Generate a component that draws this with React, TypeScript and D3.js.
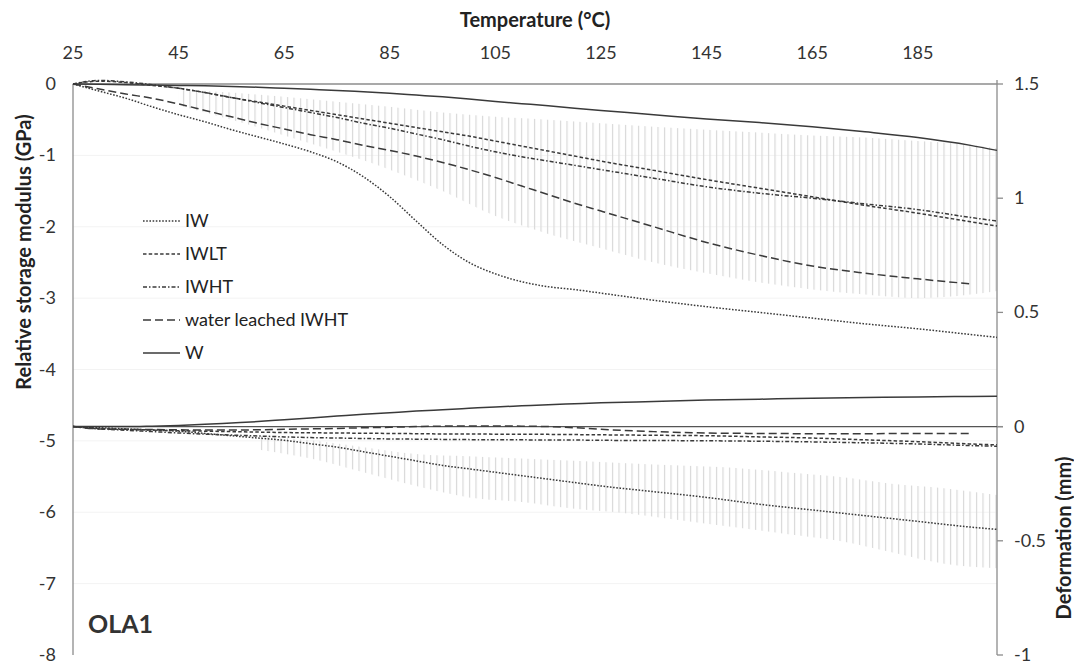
import React from 'react';
import * as d3 from 'd3';

// temperature steps (°C)
const temps = [25, 30, 35, 40, 45, 50, 55, 60, 65, 70, 75, 80, 85, 90, 95, 100, 105, 110, 115, 120, 125, 135, 145, 155, 165, 175, 185, 195, 200];

// relative storage modulus (GPa)
const modIW = [0, -0.1, -0.2, -0.32, -0.43, -0.53, -0.64, -0.74, -0.84, -0.95, -1.09, -1.3, -1.58, -1.92, -2.25, -2.5, -2.66, -2.77, -2.84, -2.88, -2.93, -3.03, -3.12, -3.2, -3.28, -3.36, -3.43, -3.51, -3.55];
const modIWLT = [0, 0.04, 0.02, -0.02, -0.06, -0.12, -0.19, -0.25, -0.31, -0.37, -0.43, -0.49, -0.55, -0.61, -0.67, -0.73, -0.8, -0.87, -0.94, -1.01, -1.08, -1.21, -1.34, -1.46, -1.58, -1.7, -1.81, -1.93, -1.99];
const modIWHT = [0, 0.05, 0.03, -0.01, -0.06, -0.12, -0.19, -0.26, -0.33, -0.4, -0.47, -0.55, -0.62, -0.7, -0.78, -0.87, -0.95, -1.02, -1.08, -1.14, -1.2, -1.32, -1.44, -1.53, -1.6, -1.68, -1.76, -1.87, -1.92];
const modWL = [0, -0.07, -0.14, -0.2, -0.28, -0.37, -0.46, -0.55, -0.63, -0.71, -0.78, -0.86, -0.93, -1.01, -1.1, -1.2, -1.31, -1.43, -1.55, -1.67, -1.78, -2.0, -2.22, -2.4, -2.55, -2.65, -2.73, -2.8, null];
const modW = [0, -0.003, -0.01, -0.015, -0.02, -0.025, -0.035, -0.045, -0.06, -0.075, -0.09, -0.11, -0.13, -0.155, -0.18, -0.21, -0.245, -0.275, -0.305, -0.34, -0.37, -0.43, -0.49, -0.54, -0.6, -0.67, -0.75, -0.86, -0.93];

// deformation (mm)
const defIW = [0, -0.005, -0.01, -0.015, -0.02, -0.03, -0.04, -0.05, -0.06, -0.075, -0.09, -0.11, -0.13, -0.15, -0.17, -0.185, -0.2, -0.215, -0.23, -0.245, -0.26, -0.285, -0.31, -0.34, -0.365, -0.39, -0.415, -0.44, -0.45];
const defIWLT = [0, -0.008, -0.012, -0.015, -0.018, -0.02, -0.022, -0.024, -0.026, -0.027, -0.028, -0.029, -0.03, -0.031, -0.032, -0.032, -0.033, -0.033, -0.034, -0.035, -0.036, -0.038, -0.04, -0.045, -0.05, -0.058, -0.066, -0.076, -0.08];
const defIWHT = [0, -0.01, -0.016, -0.022, -0.028, -0.033, -0.037, -0.041, -0.045, -0.048, -0.05, -0.052, -0.054, -0.055, -0.056, -0.057, -0.058, -0.058, -0.059, -0.059, -0.06, -0.061, -0.062, -0.064, -0.067, -0.071, -0.076, -0.083, -0.086];
const defWL = [0, -0.01, -0.012, -0.013, -0.014, -0.015, -0.015, -0.014, -0.012, -0.01, -0.008, -0.005, -0.003, 0, 0.002, 0.003, 0.003, 0.002, 0, -0.005, -0.012, -0.022, -0.028, -0.03, -0.031, -0.031, -0.03, -0.03, null];
const defW = [0, 0, 0, 0.002, 0.005, 0.01, 0.016, 0.022, 0.03, 0.038, 0.046, 0.054, 0.061, 0.068, 0.074, 0.08, 0.086, 0.091, 0.096, 0.1, 0.104, 0.11, 0.116, 0.12, 0.124, 0.127, 0.13, 0.132, 0.133];

// spread of the repeats (light hatching)
const upperTemps = [45, 55, 65, 75, 85, 95, 105, 115, 125, 135, 145, 155, 165, 175, 185, 195, 200];
const upperHi = [-0.08, -0.12, -0.18, -0.25, -0.32, -0.4, -0.46, -0.5, -0.55, -0.6, -0.64, -0.68, -0.72, -0.75, -0.8, -0.85, -0.9];
const upperLo = [-0.3, -0.5, -0.72, -0.95, -1.2, -1.5, -1.85, -2.1, -2.3, -2.5, -2.65, -2.78, -2.88, -2.95, -3.0, -2.95, -2.9];
const lowerTemps = [60, 70, 80, 90, 100, 110, 120, 130, 140, 150, 160, 170, 180, 190, 200];
const lowerHi = [-0.04, -0.06, -0.09, -0.12, -0.13, -0.14, -0.15, -0.16, -0.17, -0.18, -0.2, -0.22, -0.25, -0.27, -0.3];
const lowerLo = [-0.1, -0.14, -0.2, -0.26, -0.31, -0.33, -0.36, -0.38, -0.41, -0.44, -0.47, -0.5, -0.55, -0.6, -0.62];

const xTicks = [25, 45, 65, 85, 105, 125, 145, 165, 185];
const leftTicks = [0, -1, -2, -3, -4, -5, -6, -7, -8];
const rightTicks = [1.5, 1, 0.5, 0, -0.5, -1];

const seriesNames = ['IW', 'IWLT', 'IWHT', 'water leached IWHT', 'W'];
const dashes = ['1.6 1.6', '3.5 2.2', '4 2 1.5 2', '8 4', null];

const width = 1074;
const height = 665;
const left = 73;
const right = 997;
const top = 84;
const bottom = 655;
const ink = '#3a3a3a';
const font = 'Lato, "Open Sans", sans-serif';

const App = () => {
  const x = d3.scaleLinear().domain([25, 200]).range([left, right]);
  const yL = d3.scaleLinear().domain([-8, 0]).range([bottom, top]);
  const yR = d3.scaleLinear().domain([-1, 1.5]).range([bottom, top]);

  const mods = [modIW, modIWLT, modIWHT, modWL, modW];
  const defs = [defIW, defIWLT, defIWHT, defWL, defW];

  const lineFor = (vals: (number | null)[], y: d3.ScaleLinear<number, number>) =>
    d3
      .line<number>()
      .defined((_, i) => vals[i] !== null)
      .x((t) => x(t))
      .y((_, i) => y(vals[i] as number))
      .curve(d3.curveMonotoneX)(temps) || '';

  const bandFor = (ts: number[], hi: number[], lo: number[], y: d3.ScaleLinear<number, number>) =>
    d3
      .area<number>()
      .x((t) => x(t))
      .y0((_, i) => y(lo[i]))
      .y1((_, i) => y(hi[i]))
      .curve(d3.curveMonotoneX)(ts) || '';

  return (
    <svg width={width} height={height} style={{ position: 'absolute', left: 0, top: 0, background: '#fff' }} fontFamily={font}>
      <defs>
        <pattern id='vhatch' width={6.5} height={10} patternUnits='userSpaceOnUse'>
          <line x1={1.5} y1={0} x2={1.5} y2={10} stroke='#d8d8d8' strokeWidth={1.2} />
        </pattern>
      </defs>

      {/* faint gridlines */}
      {leftTicks.slice(1, -1).map((t) => (
        <line key={t} x1={left} x2={right} y1={yL(t)} y2={yL(t)} stroke='#f3f3f3' strokeWidth={1} />
      ))}

      {/* hatched spread */}
      <path d={bandFor(upperTemps, upperHi, upperLo, yL)} fill='url(#vhatch)' />
      <path d={bandFor(lowerTemps, lowerHi, lowerLo, yR)} fill='url(#vhatch)' />

      {/* axes */}
      <line x1={left} x2={right} y1={top} y2={top} stroke='#8c8c8c' strokeWidth={1.3} />
      <line x1={left} x2={left} y1={top} y2={bottom} stroke='#8c8c8c' strokeWidth={1.3} />
      <line x1={right} x2={right} y1={top - 4} y2={bottom} stroke='#8c8c8c' strokeWidth={1.3} />
      <line x1={left} x2={right + 6} y1={yR(0)} y2={yR(0)} stroke='#555' strokeWidth={1.3} />
      {rightTicks.map((t) => (
        <line key={t} x1={right} x2={right + 6} y1={yR(t)} y2={yR(t)} stroke='#8c8c8c' strokeWidth={1.3} />
      ))}

      {/* series */}
      {mods.map((vals, i) => (
        <path key={'m' + i} d={lineFor(vals, yL)} fill='none' stroke={ink} strokeWidth={1.5}
          strokeDasharray={dashes[i] || undefined} />
      ))}
      {defs.map((vals, i) => (
        <path key={'d' + i} d={lineFor(vals, yR)} fill='none' stroke={ink} strokeWidth={1.5}
          strokeDasharray={dashes[i] || undefined} />
      ))}

      {/* tick labels */}
      {xTicks.map((t) => (
        <text key={t} x={x(t)} y={59} textAnchor='middle' fontSize={18} fill='#333'>{t}</text>
      ))}
      {leftTicks.map((t) => (
        <text key={t} x={56} y={yL(t) + 6} textAnchor='end' fontSize={18} fill='#333'>{t}</text>
      ))}
      {rightTicks.map((t) => (
        <text key={t} x={1014} y={yR(t) + 6} textAnchor='start' fontSize={18} fill='#333'>{t}</text>
      ))}

      {/* axis titles */}
      <text x={(left + right) / 2} y={27} textAnchor='middle' fontSize={20} fontWeight='bold' fill='#222'>Temperature (°C)</text>
      <text transform={`translate(31, 252) rotate(-90)`} textAnchor='middle' fontSize={20} fontWeight='bold' fill='#222'>
        Relative storage modulus (GPa)
      </text>
      <text transform={`translate(1071, 538) rotate(-90)`} textAnchor='middle' fontSize={20} fontWeight='bold' fill='#222'>
        Deformation (mm)
      </text>

      {/* legend */}
      {seriesNames.map((name, i) => (
        <g key={name} transform={`translate(143, ${221 + i * 33})`}>
          <line x1={0} x2={37} y1={0} y2={0} stroke={ink} strokeWidth={1.5} strokeDasharray={dashes[i] || undefined} />
          <text x={42} y={6} fontSize={18} fill='#222'>{name}</text>
        </g>
      ))}

      <text x={88} y={633} fontSize={25} fontWeight='bold' fill='#333'>OLA1</text>
    </svg>
  );
};

export default App;
